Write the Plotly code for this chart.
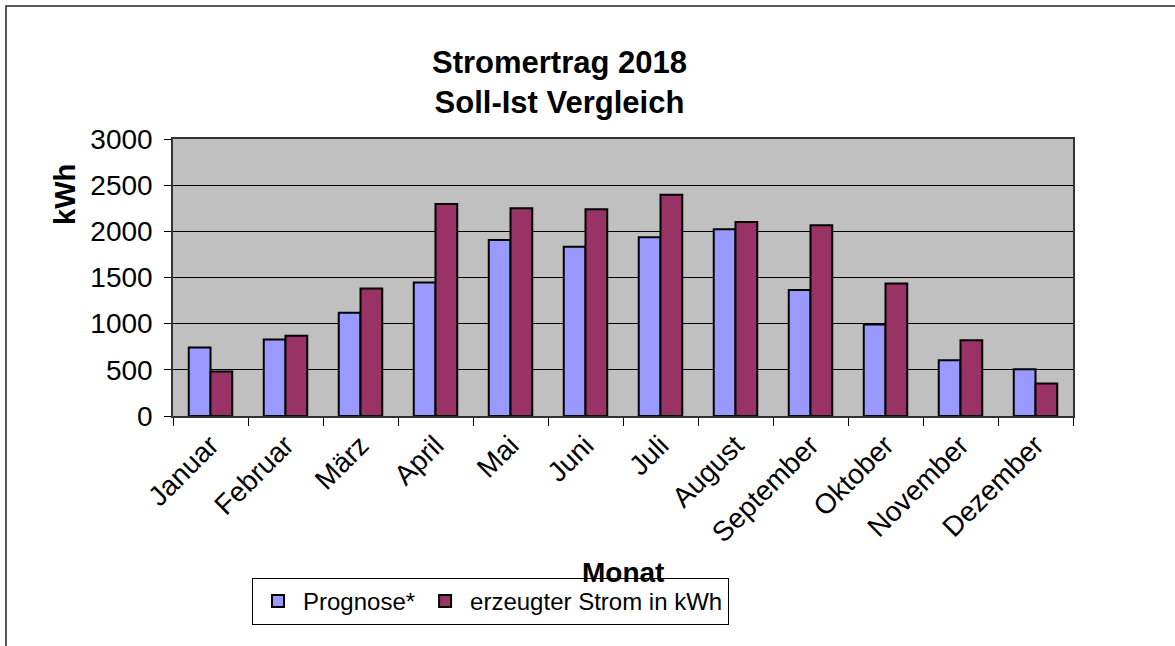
import plotly.graph_objects as go

months = ["Januar", "Februar", "März", "April", "Mai", "Juni", "Juli",
          "August", "September", "Oktober", "November", "Dezember"]
prognose = [742, 829, 1118, 1447, 1907, 1834, 1936, 2022, 1364, 991, 604, 507]
erzeugt = [481, 868, 1382, 2297, 2250, 2240, 2395, 2102, 2066, 1436, 821, 351]
y_ticks = [0, 500, 1000, 1500, 2000, 2500, 3000]

W, H = 1175, 646
L, R, T, B = 173, 102, 139, 230
pw, ph = W - L - R, H - T - B

def px_x(x):  # screen x -> paper
    return (x - L) / pw

def px_y(y):  # screen y -> paper
    return (H - B - y) / ph

FONT = "Liberation Sans, Arial, sans-serif"

fig = go.Figure()
fig.add_trace(go.Bar(x=months, y=prognose, name="Prognose*",
                     marker=dict(color="#9999FF", line=dict(color="black", width=2))))
fig.add_trace(go.Bar(x=months, y=erzeugt, name="erzeugter Strom in kWh",
                     marker=dict(color="#993366", line=dict(color="black", width=2))))

fig.update_layout(
    width=W, height=H,
    margin=dict(l=L, r=R, t=T, b=B, autoexpand=False),
    paper_bgcolor="white",
    plot_bgcolor="#C0C0C0",
    barmode="group",
    bargap=0.42,
    bargroupgap=0,
    font=dict(family=FONT, color="black"),
    showlegend=True,
    legend=dict(orientation="h", x=px_x(252), y=px_y(578), xanchor="left", yanchor="top",
                bordercolor="black", borderwidth=1, bgcolor="white",
                font=dict(size=24, family=FONT), itemwidth=40,
                traceorder="normal"),
    xaxis=dict(
        type="category", tickangle=-45, tickfont=dict(size=28),
        ticks="outside", ticklen=8, tickcolor="black", tickson="boundaries",
        showline=True, linecolor="#333333", linewidth=1.5, mirror=True,
        showgrid=False,
    ),
    yaxis=dict(
        range=[0, 3000], tickvals=y_ticks, ticktext=[str(v) for v in y_ticks],
        tickfont=dict(size=28), ticks="outside", ticklen=7, tickcolor="black",
        ticklabelstandoff=6,
        showline=True, linecolor="#333333", linewidth=1.5, mirror=True,
        showgrid=True, gridcolor="black", gridwidth=1, zeroline=False,
    ),
    shapes=[dict(type="rect", xref="paper", yref="paper",
                 x0=px_x(6), x1=px_x(1300), y0=px_y(800), y1=px_y(6),
                 line=dict(color="#222222", width=1.5), fillcolor="rgba(0,0,0,0)",
                 layer="below")],
    annotations=[
        dict(text="<b>Stromertrag 2018<br>Soll-Ist Vergleich</b>", x=px_x(559), y=px_y(82),
             xref="paper", yref="paper", xanchor="center", yanchor="middle",
             showarrow=False, font=dict(size=31, family=FONT)),
        dict(text="<b>kWh</b>", x=px_x(65), y=px_y(195), xref="paper", yref="paper",
             xanchor="center", yanchor="middle", textangle=-90,
             showarrow=False, font=dict(size=29, family=FONT)),
        dict(text="<b>Monat</b>", x=px_x(623), y=px_y(572), xref="paper", yref="paper",
             xanchor="center", yanchor="middle",
             showarrow=False, font=dict(size=28, family=FONT)),
    ],
)

fig.write_html("out.html", config={"displayModeBar": False},
               post_script="document.body.style.margin='0px';")
